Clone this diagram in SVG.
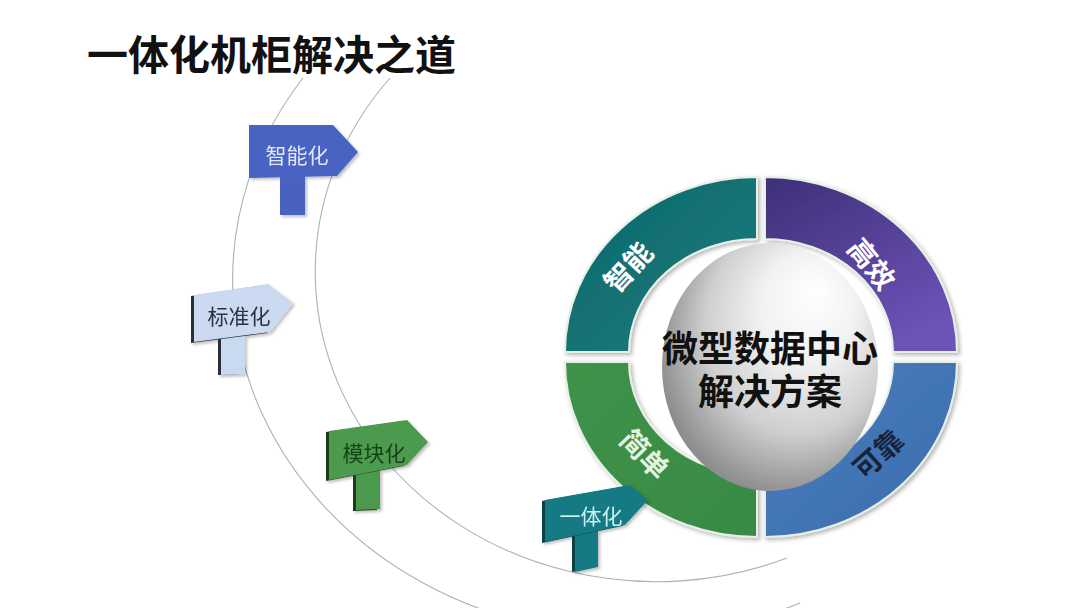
<svg xmlns="http://www.w3.org/2000/svg" width="1080" height="608" viewBox="0 0 1080 608">
<defs>
<style>
.cjk{font-family:"Noto Sans CJK SC","Noto Sans",sans-serif;}
.arc{fill:none;stroke:#a9b3b3;stroke-width:1.1;}
.q{stroke:#e6f0e4;stroke-width:2;filter:url(#sh);}
.sign{filter:url(#sh2);}
.lbl{font-size:28px;font-weight:700;text-anchor:middle;dominant-baseline:central;}
.st{font-size:21px;text-anchor:middle;}
</style>
<filter id="sh" x="-10%" y="-10%" width="130%" height="130%">
<feDropShadow dx="2" dy="2" stdDeviation="2" flood-color="#000" flood-opacity="0.3"/>
</filter>
<filter id="sh2" x="-10%" y="-10%" width="130%" height="130%">
<feDropShadow dx="2" dy="2" stdDeviation="1.5" flood-color="#000" flood-opacity="0.25"/>
</filter>
<linearGradient id="gTeal" x1="0" y1="0" x2="1" y2="1">
<stop offset="0" stop-color="#0e6668"/><stop offset="1" stop-color="#187d80"/>
</linearGradient>
<linearGradient id="gPurple" x1="0" y1="0" x2="0.6" y2="1">
<stop offset="0" stop-color="#3e2f78"/><stop offset="1" stop-color="#6c52b6"/>
</linearGradient>
<linearGradient id="gGreen" x1="0" y1="0" x2="1" y2="1">
<stop offset="0" stop-color="#3f9249"/><stop offset="1" stop-color="#388a44"/>
</linearGradient>
<linearGradient id="gBlue" x1="0" y1="0" x2="1" y2="1">
<stop offset="0" stop-color="#4a7ec0"/><stop offset="1" stop-color="#3c6cac"/>
</linearGradient>
<radialGradient id="gSphere" cx="0.6" cy="0.4" r="0.62" fx="0.72" fy="0.18">
<stop offset="0" stop-color="#ffffff"/>
<stop offset="0.35" stop-color="#f2f2f2"/>
<stop offset="0.7" stop-color="#cfcfcf"/>
<stop offset="1" stop-color="#8e8e8e"/>
</radialGradient>
</defs>
<rect width="1080" height="608" fill="#ffffff"/>

<g id="arcs">
<path class="arc" d="M303,78 A400,356 0 0 0 800,603"/>
<path class="arc" d="M390,78 A341,310 0 0 0 787,558"/>
</g>

<g id="title">
<text class="cjk" x="87" y="70" font-size="41" font-weight="700" fill="#111">一体化机柜解决之道</text>
</g>

<g id="ring">
<g id="q-zhineng">
<path class="q" fill="url(#gTeal)" d="M565,352 A192,175 0 0 1 757,177 L757,239 A128,113 0 0 0 629,352 Z"/>
<text class="cjk lbl" fill="#ffffff" transform="translate(627,266) rotate(-47)">智能</text>
</g>
<g id="q-gaoxiao">
<path class="q" fill="url(#gPurple)" d="M765,177 A192,175 0 0 1 957,352 L893,352 A128,113 0 0 0 765,239 Z"/>
<text class="cjk lbl" fill="#ffffff" transform="translate(873,263) rotate(51)">高效</text>
</g>
<g id="q-jiandan">
<path class="q" fill="url(#gGreen)" d="M565,362 A192,175 0 0 0 757,537 L757,475 A128,113 0 0 1 629,362 Z"/>
<text class="cjk lbl" fill="#e4f3df" transform="translate(646,453) rotate(46)">简单</text>
</g>
<g id="q-kekao">
<path class="q" fill="url(#gBlue)" d="M765,537 A192,175 0 0 0 957,362 L893,362 A128,113 0 0 1 765,475 Z"/>
<text class="cjk lbl" fill="#17223c" transform="translate(877,453) rotate(-42)">可靠</text>
</g>
</g>

<g id="center">
<ellipse cx="770" cy="367" rx="108" ry="124" fill="url(#gSphere)"/>
<text class="cjk" x="770" y="362" font-size="36" font-weight="700" text-anchor="middle" fill="#111">微型数据中心</text>
<text class="cjk" x="770" y="405" font-size="36" font-weight="700" text-anchor="middle" fill="#111">解决方案</text>
</g>

<g id="sign-zhinenghua" class="sign">
<rect x="280" y="170" width="25" height="45" fill="#4a62c0"/>
<polygon points="249,125 333,125 358,152 337,176 249,178" fill="#4a63c2"/>
<text class="cjk st" x="297" y="163" fill="#dfe6f7">智能化</text>
</g>

<g id="sign-biaozhunhua" class="sign">
<polygon points="218,336 242,334 242,374 218,375" fill="#2c2f36"/>
<polygon points="221,336 245,334 245,374 221,375" fill="#c9d9ef"/>
<polygon points="191,296 265,285 290,304 267,333 191,343" fill="#2c2f36"/>
<polygon points="194,295 268,284 293,303 270,332 194,342" fill="#cbdaf0"/>
<text class="cjk st" x="239" y="324" fill="#2c3140">标准化</text>
</g>

<g id="sign-mokuaihua" class="sign">
<polygon points="353,470 377,467 377,510 353,511" fill="#1d3d1d"/>
<polygon points="356,470 380,467 380,509 356,510" fill="#4c9a4e"/>
<polygon points="326,432 404,421 425,443 404,466 326,481" fill="#1d3d1d"/>
<polygon points="329,431 407,420 428,442 407,465 329,480" fill="#4c9a4e"/>
<text class="cjk st" x="374" y="461" fill="#173f17">模块化</text>
</g>

<g id="sign-yitihua" class="sign">
<polygon points="572,528 595,525 595,567 572,572" fill="#0b3f44"/>
<polygon points="575,528 598,525 598,567 575,572" fill="#147a84"/>
<polygon points="542,501 627,486 645,501 622,526 542,543" fill="#0b3f44"/>
<polygon points="545,500 630,485 648,500 625,525 545,542" fill="#137a84"/>
<text class="cjk st" x="591" y="524" fill="#cfeff1">一体化</text>
</g>
</svg>
